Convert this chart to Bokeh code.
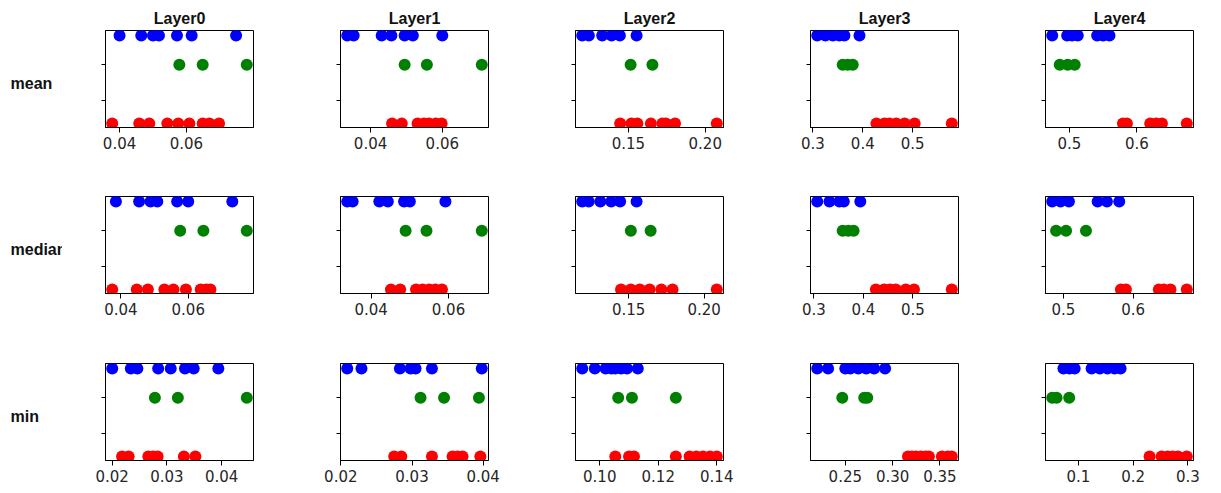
from bokeh.plotting import figure
from bokeh.layouts import row, column
from bokeh.models import Range1d, FixedTicker, PrintfTickFormatter, CustomJSTickFormatter
from bokeh.embed import file_html
from bokeh.resources import INLINE
from bokeh.core.properties import value

layers = ["Layer0", "Layer1", "Layer2", "Layer3", "Layer4"]
stats = ["mean", "median", "min"]

# ---- values per statistic: one list per layer ----
mean_blue = [
    [0.0400, 0.0465, 0.0500, 0.0518, 0.0572, 0.0616, 0.0749],
    [0.0335, 0.0353, 0.0431, 0.0458, 0.0495, 0.0518, 0.0600],
    [0.1199, 0.1242, 0.1329, 0.1390, 0.1444, 0.1553],
    [0.3087, 0.3250, 0.3400, 0.3531, 0.3632, 0.3934],
    [0.4746, 0.4967, 0.5040, 0.5124, 0.5411, 0.5500, 0.5594],
]
mean_green = [
    [0.0579, 0.0649, 0.0781],
    [0.0495, 0.0557, 0.0710],
    [0.1514, 0.1656],
    [0.3598, 0.3698, 0.3799],
    [0.4857, 0.4975, 0.5079],
]
mean_red = [
    [0.0378, 0.0459, 0.0489, 0.0543, 0.0576, 0.0609, 0.0649, 0.0669, 0.0698],
    [0.0460, 0.0487, 0.0531, 0.0549, 0.0563, 0.0582, 0.0598],
    [0.1446, 0.1519, 0.1558, 0.1646, 0.1721, 0.1743, 0.1803, 0.2075],
    [0.4274, 0.4435, 0.4536, 0.4671, 0.4839, 0.5040, 0.5784],
    [0.5793, 0.5852, 0.6197, 0.6286, 0.6370, 0.6738],
]

median_blue = [
    [0.0385, 0.0454, 0.0488, 0.0508, 0.0567, 0.0600, 0.0731],
    [0.0338, 0.0352, 0.0421, 0.0443, 0.0485, 0.0500, 0.0592],
    [0.1193, 0.1236, 0.1313, 0.1385, 0.1444, 0.1553],
    [0.3066, 0.3313, 0.3514, 0.3602, 0.3936],
    [0.4841, 0.4961, 0.5080, 0.5491, 0.5624, 0.5800],
]
median_green = [
    [0.0576, 0.0645, 0.0774],
    [0.0489, 0.0543, 0.0686],
    [0.1515, 0.1646],
    [0.3580, 0.3693, 0.3801],
    [0.4896, 0.5039, 0.5324],
]
median_red = [
    [0.0374, 0.0447, 0.0480, 0.0529, 0.0556, 0.0593, 0.0637, 0.0654, 0.0666],
    [0.0451, 0.0475, 0.0516, 0.0533, 0.0550, 0.0566, 0.0583],
    [0.1450, 0.1515, 0.1574, 0.1639, 0.1717, 0.1791, 0.2084],
    [0.4250, 0.4418, 0.4538, 0.4652, 0.4853, 0.5020, 0.5783],
    [0.5824, 0.5896, 0.6367, 0.6439, 0.6534, 0.6767],
]

min_blue = [
    [0.0200, 0.0234, 0.0246, 0.0284, 0.0307, 0.0333, 0.0349, 0.0394],
    [0.0209, 0.0229, 0.0283, 0.0298, 0.0305, 0.0328, 0.0398],
    [0.0940, 0.0983, 0.1020, 0.1040, 0.1053, 0.1073, 0.1093, 0.1130],
    [0.2203, 0.2318, 0.2500, 0.2553, 0.2637, 0.2721, 0.2805, 0.2921],
    [0.0725, 0.0835, 0.0930, 0.1240, 0.1390, 0.1530, 0.1660, 0.1770],
]
min_green = [
    [0.0278, 0.0320, 0.0446],
    [0.0312, 0.0345, 0.0394],
    [0.1063, 0.1110, 0.1260],
    [0.2468, 0.2700, 0.2732],
    [0.0520, 0.0600, 0.0830],
]
min_red = [
    [0.0218, 0.0230, 0.0266, 0.0275, 0.0283, 0.0331, 0.0352],
    [0.0275, 0.0285, 0.0328, 0.0357, 0.0364, 0.0371, 0.0396],
    [0.1053, 0.1100, 0.1117, 0.1260, 0.1307, 0.1330, 0.1353, 0.1377, 0.1400],
    [0.3163, 0.3205, 0.3247, 0.3300, 0.3350, 0.3384, 0.3521, 0.3584, 0.3626],
    [0.2300, 0.2520, 0.2630, 0.2720, 0.2820, 0.2980],
]

# x tick values and label decimals per panel
mean_ticks = [[0.04, 0.06], [0.04, 0.06], [0.15, 0.20], [0.3, 0.4, 0.5], [0.5, 0.6]]
median_ticks = [[0.04, 0.06], [0.04, 0.06], [0.15, 0.20], [0.3, 0.4, 0.5], [0.5, 0.6]]
min_ticks = [[0.02, 0.03, 0.04], [0.02, 0.03, 0.04], [0.10, 0.12, 0.14], [0.25, 0.30, 0.35], [0.1, 0.2, 0.3]]
mean_decimals = [2, 2, 2, 1, 1]
median_decimals = [2, 2, 2, 1, 1]
min_decimals = [2, 2, 2, 2, 1]

# vertical level of each series
blue_level = 3.0
green_level = 2.0
red_level = 0.0
y_ticks = [0.78, 2.0]

colors = {"blue": "#0000ff", "green": "#008000", "red": "#ff0000"}

table = {
    "mean": (mean_blue, mean_green, mean_red, mean_ticks, mean_decimals),
    "median": (median_blue, median_green, median_red, median_ticks, median_decimals),
    "min": (min_blue, min_green, min_red, min_ticks, min_decimals),
}

FW, FH = 148, 97
HEADER_H = 30
tops = [0, 34, 35]
bottoms = [35, 35, 27]
LABEL_W = 62
LEFTS = [43, 40, 40, 40, 40]
RIGHTS = [47, 47, 47, 47, 11]


def blank(width, height, xr, yr, **kw):
    f = figure(frame_width=width, frame_height=height, x_range=xr, y_range=yr,
               output_backend="svg", toolbar_location=None,
               x_axis_location=None, y_axis_location=None, **kw)
    f.grid.visible = False
    f.outline_line_color = None
    return f


# header row with the layer titles
header = [blank(LABEL_W, HEADER_H, Range1d(0, 1), Range1d(0, HEADER_H),
                min_border_left=0, min_border_right=0, min_border_top=0, min_border_bottom=0)]
for c in range(5):
    h = blank(FW, HEADER_H, Range1d(0, 1), Range1d(0, HEADER_H),
              min_border_left=LEFTS[c], min_border_right=RIGHTS[c],
              min_border_top=0, min_border_bottom=0)
    h.text(x=[0.5], y=[12.5], text=[layers[c]], text_font=value("Liberation Sans"),
           text_font_style="bold", text_font_size="16px", text_baseline="alphabetic",
           text_align="center", text_color="#111111")
    header.append(h)

rows = [row(header, spacing=0)]
for r, stat in enumerate(stats):
    blues, greens, reds, ticks, decs = table[stat]
    lab = blank(LABEL_W, FH, Range1d(0, LABEL_W), Range1d(0, 1),
                min_border_left=0, min_border_right=0,
                min_border_top=tops[r], min_border_bottom=bottoms[r])
    lab.text(x=[10], y=[0.45], text=[stat], text_font=value("Liberation Sans"),
             text_font_style="bold", text_font_size="16px", text_baseline="middle",
             text_align="left", text_color="#111111")
    children = [lab]
    for c in range(5):
        allx = blues[c] + greens[c] + reds[c]
        lo, hi = min(allx), max(allx)
        m = (hi - lo) * 0.05
        p = figure(frame_width=FW, frame_height=FH,
                   x_range=Range1d(lo - m, hi + m), y_range=Range1d(-0.136, 3.17),
                   output_backend="svg", toolbar_location=None,
                   min_border_left=LEFTS[c], min_border_right=RIGHTS[c],
                   min_border_top=tops[r], min_border_bottom=bottoms[r])
        p.grid.visible = False
        p.outline_line_color = "#000000"
        p.outline_line_alpha = 1.0
        p.outline_line_width = 1
        for ys, xs, col in ((red_level, reds[c], "red"), (green_level, greens[c], "green"),
                            (blue_level, blues[c], "blue")):
            p.scatter(x=xs, y=[ys] * len(xs), size=12, color=colors[col], line_color=None)
        p.xaxis.ticker = FixedTicker(ticks=ticks[c], minor_ticks=[])
        p.xaxis.formatter = PrintfTickFormatter(format="%%.%df" % decs[c])
        p.xaxis.major_label_text_font = "DejaVu Sans"
        p.xaxis.major_label_text_font_size = "15px"
        p.xaxis.major_label_text_color = "#262626"
        p.xaxis.major_label_standoff = 4
        p.xaxis.major_tick_out = 5
        p.xaxis.major_tick_in = 0
        p.yaxis.ticker = FixedTicker(ticks=y_ticks, minor_ticks=[])
        p.yaxis.formatter = CustomJSTickFormatter(code="return ''")
        p.yaxis.major_tick_out = 4
        p.yaxis.major_tick_in = 0
        p.axis.axis_line_color = "#000000"
        p.axis.major_tick_line_color = "#000000"
        children.append(p)
    rows.append(row(children, spacing=0))

layout = column(rows, spacing=0)
open("out.html", "w").write(file_html(layout, INLINE))
